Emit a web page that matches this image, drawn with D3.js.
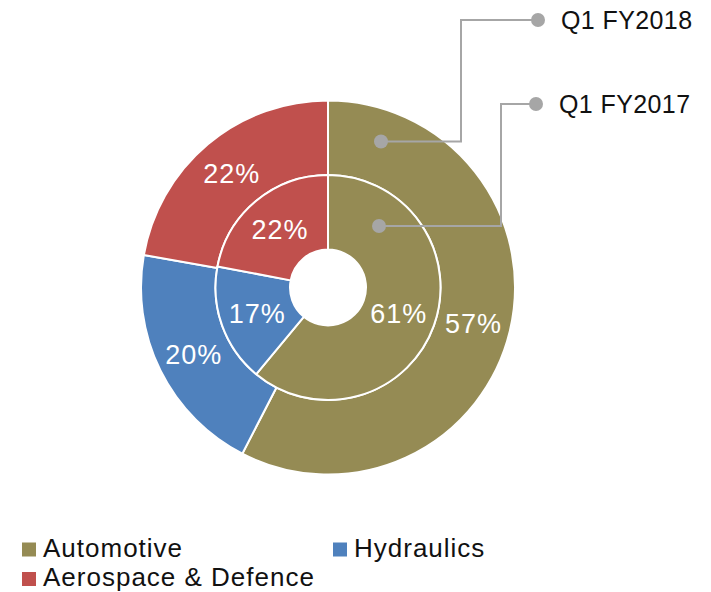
<!DOCTYPE html>
<html><head><meta charset="utf-8">
<script src="https://cdn.jsdelivr.net/npm/d3@7"></script>
<style>html,body{margin:0;padding:0;background:#fff;}svg{display:block;font-family:"Liberation Sans",Arial,sans-serif;}</style>
</head><body>
<svg id="c" width="711" height="592"></svg>
<script>
const categories = ["Automotive", "Hydraulics", "Aerospace & Defence"];
const colors = ["#958B54", "#4F81BD", "#C0504D"];
const fy2018 = [57, 20, 22];
const fy2017 = [61, 17, 22];
const ringLabels = ["Q1 FY2018", "Q1 FY2017"];

const svg = d3.select("#c");
const cx = 328, cy = 287.5;
const rHole = 38, rMid = 112.5, rOut = 187;

const pie = d3.pie().sort(null).startAngle(0).endAngle(2 * Math.PI);
const g = svg.append("g").attr("transform", `translate(${cx},${cy})`);

const rings = [
  {vals: fy2018, inner: rMid, outer: rOut},
  {vals: fy2017, inner: rHole, outer: rMid}
];
rings.forEach(r => {
  const arc = d3.arc().innerRadius(r.inner).outerRadius(r.outer);
  const arcs = pie(r.vals);
  g.selectAll(null).data(arcs).enter().append("path")
    .attr("d", arc).attr("fill", (d, i) => colors[i])
    .attr("stroke", "#fff").attr("stroke-width", 2).attr("stroke-linejoin", "round");
  g.selectAll(null).data(arcs).enter().append("text")
    .attr("transform", d => `translate(${arc.centroid(d)})`)
    .attr("text-anchor", "middle").attr("dy", "0.36em")
    .attr("fill", "#fff").attr("font-size", 27).attr("letter-spacing", 1)
    .text(d => d.data + "%");
});

// leader lines
const leaders = [
  {dot: [381, 141.5], elbowX: 461, topY: 20, endX: 538},
  {dot: [379, 226], elbowX: 501, topY: 104, endX: 536}
];
leaders.forEach((l, i) => {
  svg.append("path")
    .attr("d", `M${l.dot[0]},${l.dot[1]}H${l.elbowX}V${l.topY}H${l.endX}`)
    .attr("fill", "none").attr("stroke", "#A6A6A6").attr("stroke-width", 2);
  svg.append("circle").attr("cx", l.dot[0]).attr("cy", l.dot[1]).attr("r", 7).attr("fill", "#A6A6A6");
  svg.append("circle").attr("cx", l.endX).attr("cy", l.topY).attr("r", 7).attr("fill", "#A6A6A6");
  svg.append("text").attr("x", l.endX + 23).attr("y", l.topY).attr("dy", "0.36em")
    .attr("font-size", 25).attr("letter-spacing", 0.4).attr("fill", "#111").text(ringLabels[i]);
});

// legend (x, baseline)
const legendPos = [[22, 556.5], [333, 556.5], [22, 586]];
categories.forEach((c, i) => {
  const [x, y] = legendPos[i];
  svg.append("rect").attr("x", x).attr("y", y - 14).attr("width", 14).attr("height", 14).attr("fill", colors[i]);
  svg.append("text").attr("x", x + 21).attr("y", y)
    .attr("font-size", 26).attr("letter-spacing", 1).attr("fill", "#111").text(c);
});
</script>
</body></html>
